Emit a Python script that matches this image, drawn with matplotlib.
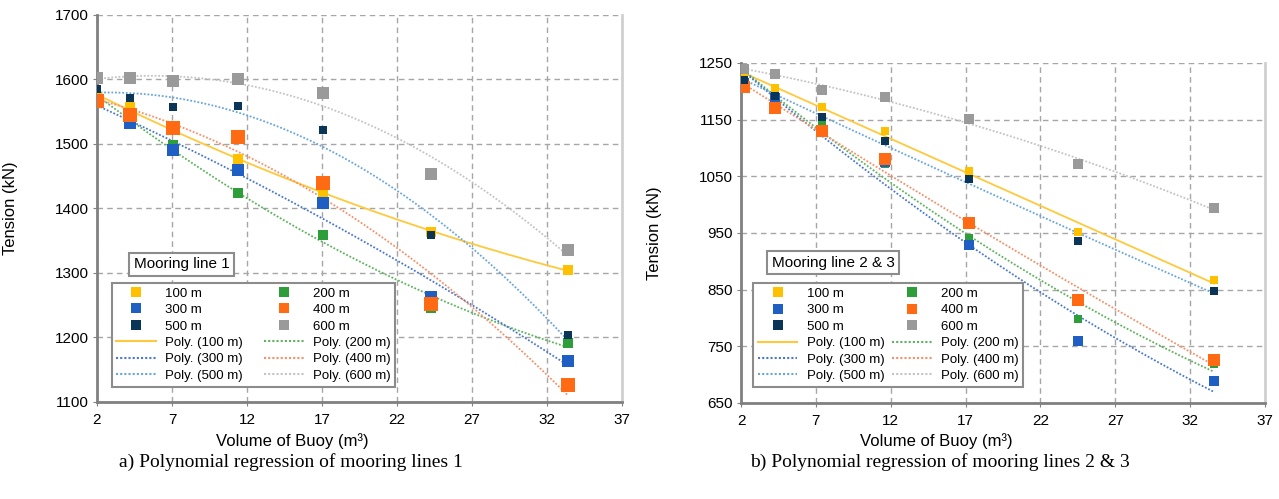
import numpy as np
import matplotlib
matplotlib.use("Agg")
import matplotlib.pyplot as plt
from matplotlib.lines import Line2D

plt.rcParams['font.family'] = ['Liberation Sans', 'DejaVu Sans']

depths = ['100 m', '200 m', '300 m', '400 m', '500 m', '600 m']
marker_colors = ['#FFC000', '#2E9E3A', '#1F5FC4', '#FF6A13', '#0B3556', '#9A9A9A']
line_colors = ['#FFC93C', '#5DB35D', '#4A78CF', '#F5906A', '#6AA6DA', '#C4C4C4']

# mooring line 1
volume_1 = [2.0, 4.2, 7.1, 11.4, 17.1, 24.3, 33.4]
t1_100 = [1572, 1557, 1522, 1476, 1424, 1364, 1304]
t1_200 = [1566, 1540, 1498, 1424, 1359, 1245, 1192]
t1_300 = [1565, 1532, 1491, 1459, 1409, 1262, 1164]
t1_400 = [1567, 1545, 1525, 1511, 1440, 1252, 1126]
t1_500 = [1586, 1572, 1558, 1559, 1521, 1359, 1204]
t1_600 = [1602, 1602, 1597, 1601, 1579, 1454, 1335]

# mooring lines 2 & 3
volume_2 = [2.2, 4.3, 7.4, 11.6, 17.2, 24.5, 33.6]
t2_100 = [1228, 1205, 1173, 1130, 1060, 952, 867]
t2_200 = [1220, 1190, 1140, 1072, 942, 799, 718]
t2_300 = [1214, 1188, 1128, 1075, 929, 760, 688]
t2_400 = [1207, 1170, 1130, 1081, 967, 831, 726]
t2_500 = [1220, 1191, 1154, 1112, 1045, 936, 848]
t2_600 = [1240, 1230, 1203, 1190, 1151, 1071, 994]

marker_sizes = [7.5, 7, 8, 9.5, 6, 8.5]


def draw_panel(ax, x, series, ylim, yticks, box_text, box_pos, leg_anchor, msizes,
               xlabel_y, colspace):
    x = np.array(x)
    xs = np.linspace(x.min(), x.max(), 200)
    for i, y in enumerate(series):
        coef = np.polyfit(x, y, 2)
        ls = '-' if i == 0 else (0, (1, 1))
        ax.plot(xs, np.polyval(coef, xs), color=line_colors[i], lw=1.3, ls=ls, zorder=2)
    for i, y in enumerate(series):
        ax.plot(x, y, 's', color=marker_colors[i], ms=msizes[i], mew=0, zorder=3)

    ax.set_xlim(2, 37)
    ax.set_xticks(np.arange(2, 38, 5))
    ax.set_ylim(*ylim)
    ax.set_yticks(yticks)
    ax.grid(True, color='#a6a6a6', ls=(0, (4, 3)), lw=1.0)
    ax.set_axisbelow(True)
    for s in ['left', 'bottom']:
        ax.spines[s].set_color('#808080')
        ax.spines[s].set_linewidth(2)
    ax.spines['right'].set_color('#d0d0d0')
    ax.spines['right'].set_linewidth(2)
    ax.spines['top'].set_visible(False)
    ax.tick_params(labelsize=11, length=3, color='#808080', pad=3)
    ax.tick_params(axis='x', pad=5)

    ax.set_ylabel('Tension (kN)', fontsize=12)
    ax.yaxis.set_label_coords(-0.15, 0.5)
    ax.set_xlabel('Volume of Buoy (m³)', fontsize=12)
    ax.xaxis.set_label_coords(0.372, xlabel_y)

    ax.text(box_pos[0], box_pos[1], box_text, transform=ax.transAxes, fontsize=11,
            ha='center', va='center',
            bbox=dict(boxstyle='square,pad=0.3', fc='white', ec='#8c8c8c', lw=1.5), zorder=5)

    mk = [Line2D([], [], marker='s', ls='none', color=marker_colors[i], ms=7, mew=0) for i in range(6)]
    ln = [Line2D([], [], color=line_colors[i], lw=1.5, ls='-' if i == 0 else (0, (1, 1))) for i in range(6)]
    labels_l = ['Poly. (%s)' % d for d in depths]
    order = [0, 2, 4]
    handles = [mk[i] for i in order] + [ln[i] for i in order] + \
              [mk[i + 1] for i in order] + [ln[i + 1] for i in order]
    labels = [depths[i] for i in order] + [labels_l[i] for i in order] + \
             [depths[i + 1] for i in order] + [labels_l[i + 1] for i in order]
    leg = ax.legend(handles, labels, ncol=2, loc='lower left', bbox_to_anchor=leg_anchor,
                    fontsize=9.5, frameon=True, fancybox=False, edgecolor='#8c8c8c',
                    framealpha=1, borderpad=0.35, labelspacing=0.32, handlelength=3.0,
                    handletextpad=0.7, columnspacing=colspace, borderaxespad=0)
    leg.get_frame().set_linewidth(1.5)
    leg.set_zorder(5)


fig = plt.figure(figsize=(12.79, 4.99), dpi=100)
ax1 = fig.add_axes([0.0758, 0.1944, 0.4105, 0.7756])
ax2 = fig.add_axes([0.5794, 0.1924, 0.4097, 0.6814])

draw_panel(ax1, volume_1, [t1_100, t1_200, t1_300, t1_400, t1_500, t1_600],
           (1100, 1700), np.arange(1100, 1701, 100), 'Mooring line 1',
           (0.161, 0.356), (0.028, 0.04), marker_sizes, -0.08, 1.6)
draw_panel(ax2, volume_2, [t2_100, t2_200, t2_300, t2_400, t2_500, t2_600],
           (650, 1250), np.arange(650, 1251, 100), 'Mooring line 2 & 3',
           (0.176, 0.412), (0.023, 0.048), [m * 0.85 for m in marker_sizes], -0.088, 0.6)

fig.text(291 / 1279, 1 - 462 / 499, 'a) Polynomial regression of mooring lines 1',
         family=['Liberation Serif', 'DejaVu Serif'], fontsize=14, ha='center', va='center')
fig.text(940 / 1279, 1 - 462 / 499, 'b) Polynomial regression of mooring lines 2 & 3',
         family=['Liberation Serif', 'DejaVu Serif'], fontsize=14, ha='center', va='center')

fig.savefig('out.png', dpi=100)
